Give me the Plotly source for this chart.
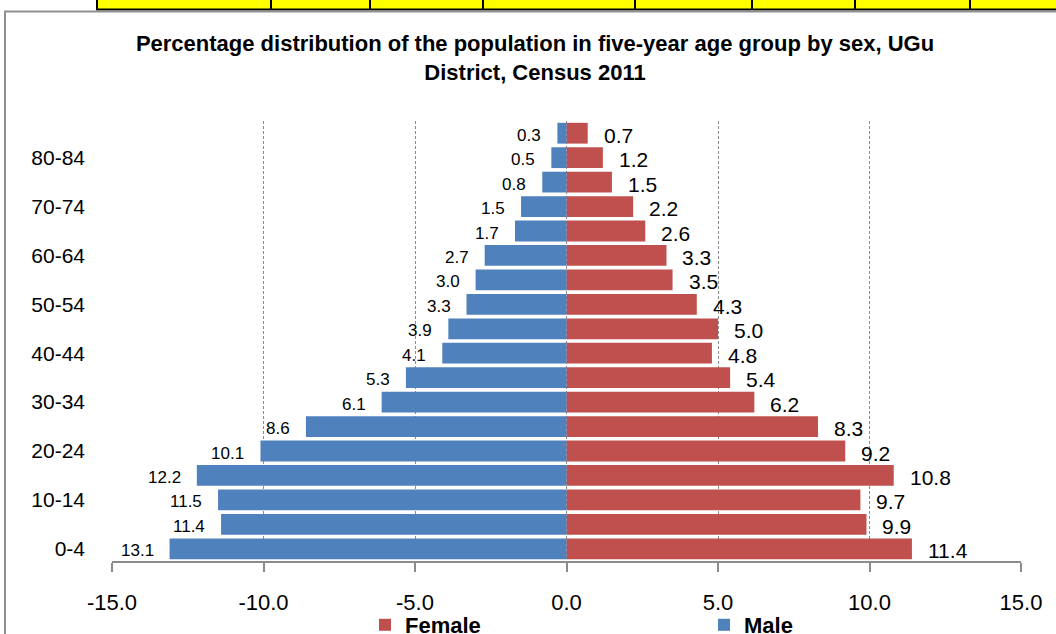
import plotly.graph_objects as go

# Five-year age groups, youngest first (bottom of the pyramid)
age_groups = ["0-4", "5-9", "10-14", "15-19", "20-24", "25-29", "30-34", "35-39",
              "40-44", "45-49", "50-54", "55-59", "60-64", "65-69", "70-74",
              "75-79", "80-84", "85+"]
male_pct = [13.1, 11.4, 11.5, 12.2, 10.1, 8.6, 6.1, 5.3, 4.1, 3.9, 3.3, 3.0,
            2.7, 1.7, 1.5, 0.8, 0.5, 0.3]
female_pct = [11.4, 9.9, 9.7, 10.8, 9.2, 8.3, 6.2, 5.4, 4.8, 5.0, 4.3, 3.5,
              3.3, 2.6, 2.2, 1.5, 1.2, 0.7]
x_ticks = [-15, -10, -5, 0, 5, 10, 15]
x_tick_labels = ["-15.0", "-10.0", "-5.0", "0.0", "5.0", "10.0", "15.0"]
y_tick_labels = age_groups[::2]

W, H = 1056, 634
L, R, T, B = 112, 35, 121, 73
PW, PH = W - L - R, H - T - B

FONT = "Liberation Sans, Arial, sans-serif"
RED, BLUE, GREY = "#C0504D", "#4F81BD", "#8C8C8C"


def px_x(px):
    return (px - L) / PW


def px_y(py):
    return (H - B - py) / PH


fig = go.Figure()
fig.add_trace(go.Bar(name="Female", y=age_groups, x=female_pct, orientation="h",
                     marker=dict(color=RED, line=dict(width=0))))
fig.add_trace(go.Bar(name="Male", y=age_groups, x=[-v for v in male_pct], orientation="h",
                     marker=dict(color=BLUE, line=dict(width=0))))

annotations = []
for g, v in zip(age_groups, female_pct):
    annotations.append(dict(x=v, y=g, xref="x", yref="y", text=f"{v:.1f}",
                            showarrow=False, xanchor="left", yanchor="middle",
                            xshift=14, yshift=-2,
                            font=dict(family=FONT, size=21, color="black")))
for g, v in zip(age_groups, male_pct):
    annotations.append(dict(x=-v, y=g, xref="x", yref="y", text=f"{v:.1f}",
                            showarrow=False, xanchor="right", yanchor="middle",
                            xshift=-14, yshift=-2,
                            font=dict(family=FONT, size=17, color="black")))

# Page furniture around the chart: table strip above and the chart frame
shapes = [
    dict(type="rect", xref="paper", yref="paper", x0=px_x(97), x1=px_x(1070),
         y0=px_y(9.5), y1=px_y(-5), fillcolor="#FFFF00",
         line=dict(color="black", width=2), layer="below"),
    dict(type="rect", xref="paper", yref="paper", x0=px_x(5), x1=px_x(1080),
         y0=px_y(660), y1=px_y(11.5), fillcolor="rgba(0,0,0,0)",
         line=dict(color="#8F8F8F", width=2), layer="below"),
]
for dx in [271, 370, 483, 635, 752, 855, 970]:
    shapes.append(dict(type="line", xref="paper", yref="paper", x0=px_x(dx), x1=px_x(dx),
                       y0=px_y(9.5), y1=px_y(-5), line=dict(color="black", width=2),
                       layer="below"))

fig.update_layout(
    width=W, height=H,
    margin=dict(l=L, r=R, t=T, b=B, autoexpand=False),
    paper_bgcolor="white", plot_bgcolor="white",
    barmode="relative", bargap=0.15,
    title=dict(text="Percentage distribution of the population in five-year age group by sex, UGu<br>District, Census 2011",
               x=535 / W, xref="container", xanchor="center",
               y=1 - 51 / H, yref="container", yanchor="top",
               font=dict(family=FONT, size=22, color="black", weight="bold")),
    xaxis=dict(range=[-15, 15], tickvals=x_ticks, ticktext=x_tick_labels,
               showgrid=True, gridcolor=GREY, griddash="3px,2px", gridwidth=1,
               zeroline=False, showline=True, linecolor=GREY, linewidth=1.5,
               ticks="outside", ticklen=9, tickcolor=GREY, tickwidth=1.5,
               ticklabelstandoff=12,
               tickfont=dict(family=FONT, size=22, color="black")),
    yaxis=dict(type="category", categoryorder="array", categoryarray=age_groups,
               range=[-0.5, len(age_groups) - 0.5],
               tickvals=y_tick_labels, ticks="", showline=False, showgrid=False,
               zeroline=False, ticklabelstandoff=26,
               tickfont=dict(family=FONT, size=21, color="black")),
    yaxis2=dict(overlaying="y", anchor="free", position=0.5, side="left",
                range=[-0.5, len(age_groups) - 0.5],
                tickvals=[i - 0.5 for i in range(len(age_groups) + 1)],
                ticks="outside", ticklen=8, tickcolor=GREY, tickwidth=1.5,
                showticklabels=False, showline=True, linecolor=GREY, linewidth=1.5,
                showgrid=False, zeroline=False),
    legend=dict(orientation="h", xref="container", yref="container",
                x=365 / W, xanchor="left", y=1 - 625 / H, yanchor="middle",
                entrywidth=294, entrywidthmode="pixels", traceorder="normal",
                font=dict(family=FONT, size=22, color="black", weight="bold"),
                bgcolor="rgba(0,0,0,0)"),
    annotations=annotations,
    shapes=shapes,
    showlegend=True,
)

fig.write_html("out.html")
